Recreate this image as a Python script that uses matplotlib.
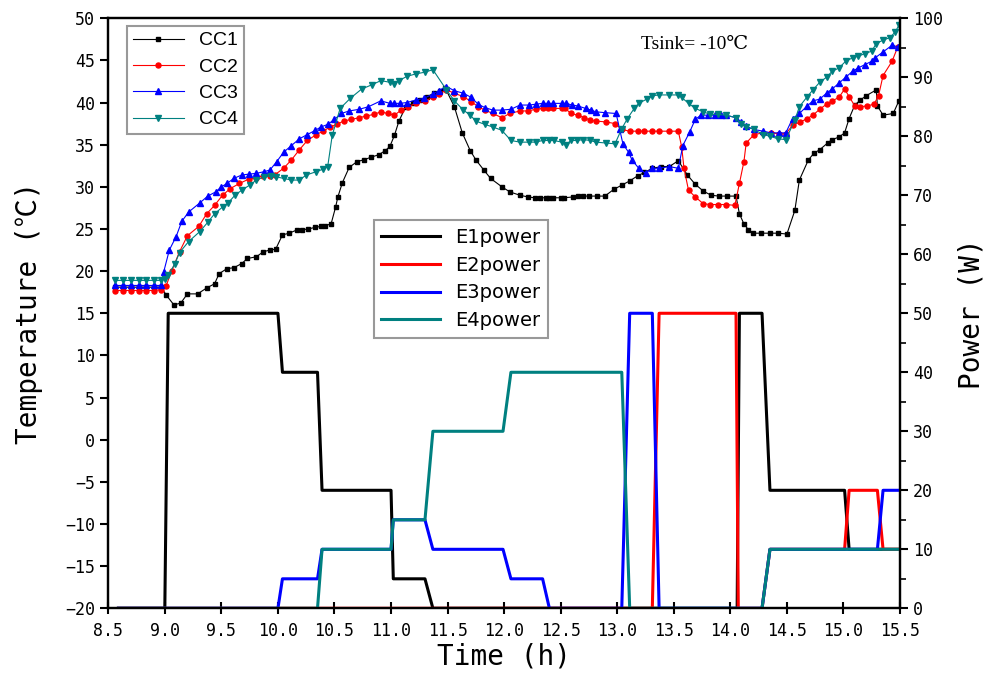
import matplotlib
matplotlib.use("Agg")
import matplotlib.pyplot as plt
from matplotlib.ticker import MultipleLocator

# Температуры CC1..CC4 (время, ℃)
cc1 = [(8.56, 18.1), (8.63, 18.1), (8.70, 18.1), (8.77, 18.1), (8.83, 18.1), (8.90, 18.1), (8.97, 18.1),
       (9.01, 17.2), (9.08, 16.0), (9.14, 16.2), (9.20, 17.3), (9.29, 17.3), (9.37, 18.0), (9.44, 18.5),
       (9.48, 19.7), (9.55, 20.3), (9.61, 20.4), (9.68, 20.9), (9.73, 21.5), (9.81, 21.7), (9.87, 22.3),
       (9.93, 22.5), (9.98, 22.6), (10.04, 24.3), (10.10, 24.5), (10.17, 24.9), (10.21, 24.9), (10.27, 25.0),
       (10.33, 25.2), (10.38, 25.3), (10.42, 25.4), (10.47, 25.6), (10.51, 27.6), (10.53, 28.8), (10.57, 30.5),
       (10.63, 32.3), (10.70, 33.0), (10.76, 33.2), (10.82, 33.5), (10.89, 33.8), (10.95, 34.3), (10.99, 34.8),
       (11.03, 36.1), (11.07, 37.8), (11.13, 39.5), (11.19, 39.9), (11.26, 40.3), (11.32, 40.7), (11.38, 41.1),
       (11.43, 41.4), (11.48, 41.7), (11.56, 39.5), (11.63, 36.4), (11.70, 34.3), (11.75, 33.2), (11.82, 32.0),
       (11.88, 31.0), (11.98, 30.0), (12.05, 29.4), (12.14, 29.0), (12.21, 28.8), (12.27, 28.7), (12.32, 28.7),
       (12.37, 28.7), (12.40, 28.7), (12.43, 28.7), (12.50, 28.7), (12.53, 28.7), (12.61, 28.8), (12.65, 28.9),
       (12.70, 28.9), (12.75, 28.9), (12.82, 28.9), (12.89, 28.9), (12.97, 29.7), (13.04, 30.2), (13.11, 30.7),
       (13.18, 31.3), (13.24, 31.7), (13.31, 32.2), (13.39, 32.4), (13.46, 32.4), (13.54, 33.1), (13.62, 31.4),
       (13.69, 30.3), (13.76, 29.5), (13.83, 29.0), (13.90, 28.9), (13.97, 28.9), (14.05, 28.9), (14.08, 26.8),
       (14.12, 25.6), (14.16, 24.9), (14.20, 24.5), (14.27, 24.5), (14.35, 24.5), (14.42, 24.5), (14.50, 24.4),
       (14.57, 27.2), (14.61, 30.8), (14.69, 33.2), (14.74, 34.0), (14.79, 34.4), (14.86, 35.2), (14.90, 35.6),
       (14.96, 35.9), (15.01, 36.4), (15.05, 38.1), (15.10, 39.7), (15.15, 40.3), (15.20, 40.8), (15.29, 41.5),
       (15.30, 39.6), (15.35, 38.5), (15.44, 38.7), (15.49, 40.2)]

cc2 = [(8.56, 17.7), (8.63, 17.7), (8.70, 17.7), (8.77, 17.7), (8.83, 17.7), (8.90, 17.7), (8.97, 17.8),
       (9.01, 18.2), (9.06, 20.0), (9.13, 22.3), (9.20, 24.2), (9.30, 25.3), (9.37, 26.8), (9.44, 27.8),
       (9.51, 29.0), (9.58, 29.8), (9.66, 30.4), (9.74, 30.9), (9.81, 31.1), (9.87, 31.3), (9.93, 31.3),
       (9.97, 31.4), (10.05, 32.2), (10.12, 33.2), (10.19, 34.4), (10.26, 35.5), (10.34, 36.2), (10.40, 36.6),
       (10.46, 37.1), (10.52, 37.4), (10.58, 37.8), (10.65, 38.0), (10.72, 38.2), (10.78, 38.4), (10.85, 38.6),
       (10.91, 38.9), (10.97, 38.7), (11.03, 38.5), (11.09, 39.1), (11.15, 39.5), (11.22, 39.9), (11.30, 40.2),
       (11.37, 40.6), (11.42, 41.0), (11.49, 41.5), (11.56, 41.1), (11.64, 40.7), (11.71, 40.1), (11.77, 39.5),
       (11.83, 39.1), (11.90, 38.7), (11.98, 38.2), (12.05, 38.7), (12.14, 39.0), (12.21, 39.0), (12.28, 39.2),
       (12.34, 39.3), (12.39, 39.3), (12.43, 39.3), (12.51, 39.3), (12.54, 39.3), (12.59, 38.7), (12.65, 38.5),
       (12.71, 38.2), (12.76, 37.9), (12.81, 37.8), (12.90, 37.7), (12.98, 37.5), (13.04, 36.8), (13.11, 36.6),
       (13.18, 36.6), (13.24, 36.6), (13.31, 36.6), (13.37, 36.6), (13.46, 36.6), (13.54, 36.6), (13.57, 34.7),
       (13.59, 32.2), (13.63, 29.6), (13.69, 28.8), (13.76, 28.0), (13.82, 27.9), (13.89, 27.9), (13.96, 27.9),
       (14.04, 27.8), (14.08, 30.4), (14.12, 33.0), (14.14, 35.2), (14.21, 36.2), (14.29, 36.4), (14.36, 36.4),
       (14.43, 36.3), (14.49, 36.3), (14.55, 37.3), (14.62, 37.7), (14.68, 38.1), (14.73, 38.5), (14.79, 39.2),
       (14.85, 39.8), (14.90, 40.2), (14.96, 40.6), (15.01, 41.6), (15.05, 40.7), (15.10, 39.6), (15.15, 39.5),
       (15.21, 39.6), (15.27, 39.8), (15.31, 40.8), (15.35, 43.2), (15.43, 44.9), (15.48, 46.6)]

cc3 = [(8.56, 18.3), (8.63, 18.3), (8.70, 18.3), (8.77, 18.3), (8.83, 18.3), (8.90, 18.3), (8.97, 18.3),
       (8.99, 19.9), (9.04, 22.5), (9.10, 24.1), (9.15, 25.9), (9.21, 27.0), (9.31, 28.1), (9.38, 28.9),
       (9.45, 29.4), (9.50, 30.0), (9.55, 30.4), (9.61, 31.0), (9.68, 31.4), (9.74, 31.5), (9.81, 31.6),
       (9.88, 31.8), (9.93, 32.0), (9.99, 33.0), (10.05, 34.1), (10.12, 34.9), (10.19, 35.7), (10.26, 36.2),
       (10.33, 36.7), (10.38, 37.1), (10.44, 37.4), (10.50, 38.0), (10.56, 38.7), (10.63, 39.0), (10.72, 39.2),
       (10.80, 39.5), (10.91, 40.2), (10.99, 39.9), (11.03, 39.9), (11.08, 39.9), (11.14, 40.0), (11.22, 40.3),
       (11.29, 40.5), (11.37, 41.0), (11.42, 41.4), (11.49, 41.9), (11.56, 41.4), (11.64, 41.1), (11.71, 40.6),
       (11.77, 39.8), (11.83, 39.4), (11.90, 39.1), (11.98, 39.1), (12.06, 39.2), (12.14, 39.7), (12.22, 39.7),
       (12.28, 39.8), (12.34, 39.9), (12.39, 39.9), (12.43, 39.9), (12.51, 39.9), (12.55, 39.9), (12.60, 39.7),
       (12.65, 39.6), (12.72, 39.3), (12.77, 39.1), (12.81, 38.9), (12.89, 38.8), (12.99, 38.7), (13.02, 36.9),
       (13.05, 35.1), (13.10, 34.1), (13.13, 33.2), (13.19, 32.2), (13.25, 31.6), (13.31, 32.2), (13.37, 32.2),
       (13.46, 32.4), (13.54, 32.2), (13.58, 34.9), (13.64, 36.5), (13.69, 38.0), (13.74, 38.5), (13.80, 38.5),
       (13.86, 38.5), (13.92, 38.5), (13.96, 38.5), (14.05, 38.2), (14.09, 37.7), (14.14, 37.2), (14.21, 36.8),
       (14.29, 36.6), (14.36, 36.4), (14.43, 36.4), (14.49, 36.4), (14.55, 38.1), (14.61, 38.7), (14.68, 39.6),
       (14.73, 40.2), (14.79, 40.4), (14.85, 41.1), (14.90, 41.6), (14.96, 42.3), (15.02, 43.0), (15.08, 43.7),
       (15.13, 44.1), (15.19, 44.5), (15.25, 44.9), (15.28, 45.3), (15.35, 46.0), (15.43, 46.8), (15.48, 46.6)]

cc4 = [(8.56, 18.9), (8.63, 18.9), (8.70, 18.9), (8.77, 18.9), (8.83, 18.9), (8.90, 18.9), (8.97, 18.9),
       (9.00, 19.1), (9.03, 19.5), (9.09, 20.9), (9.13, 22.2), (9.21, 23.5), (9.31, 24.7), (9.38, 25.8),
       (9.44, 26.8), (9.51, 27.6), (9.56, 28.1), (9.62, 29.0), (9.68, 29.6), (9.75, 30.2), (9.81, 30.8),
       (9.88, 31.2), (9.94, 31.3), (9.98, 31.2), (10.05, 31.0), (10.12, 30.8), (10.19, 30.8), (10.25, 31.4),
       (10.34, 31.8), (10.40, 32.1), (10.44, 32.4), (10.48, 36.1), (10.55, 39.3), (10.64, 40.5), (10.74, 41.6),
       (10.83, 42.1), (10.91, 42.6), (10.99, 42.4), (11.03, 42.2), (11.07, 42.6), (11.14, 43.1), (11.22, 43.4),
       (11.30, 43.6), (11.37, 43.9), (11.49, 41.5), (11.56, 40.2), (11.64, 39.1), (11.70, 38.5), (11.75, 37.8),
       (11.83, 37.4), (11.90, 37.1), (11.98, 36.7), (12.06, 35.5), (12.14, 35.3), (12.22, 35.3), (12.28, 35.3),
       (12.34, 35.5), (12.40, 35.5), (12.44, 35.5), (12.51, 35.3), (12.55, 35.0), (12.59, 35.5), (12.64, 35.5),
       (12.70, 35.6), (12.76, 35.5), (12.81, 35.3), (12.90, 35.2), (12.98, 35.1), (13.04, 36.9), (13.09, 38.1),
       (13.15, 39.3), (13.19, 39.9), (13.26, 40.4), (13.31, 40.8), (13.37, 40.9), (13.46, 40.9), (13.54, 40.9),
       (13.57, 40.6), (13.63, 39.9), (13.69, 39.3), (13.76, 38.9), (13.82, 38.6), (13.89, 38.6), (13.96, 38.5),
       (14.05, 38.2), (14.09, 37.5), (14.14, 37.1), (14.21, 36.8), (14.29, 36.2), (14.35, 36.0), (14.42, 35.7),
       (14.49, 35.6), (14.57, 37.9), (14.61, 39.5), (14.68, 40.7), (14.73, 41.5), (14.79, 42.4), (14.85, 43.0),
       (14.90, 43.7), (14.96, 44.1), (15.02, 44.9), (15.08, 45.3), (15.13, 45.5), (15.19, 45.8), (15.25, 46.1),
       (15.29, 47.0), (15.35, 47.4), (15.41, 47.7), (15.46, 48.4), (15.49, 49.2)]

# Мощности нагревателей E1..E4 (время, Вт)
e1_power = [(8.59, 0), (9.00, 0), (9.03, 50), (10.00, 50), (10.04, 40), (10.35, 40), (10.39, 20), (11.00, 20),
            (11.02, 5), (11.30, 5), (11.37, 0), (14.06, 0), (14.08, 50), (14.28, 50), (14.35, 20), (15.01, 20),
            (15.05, 10), (15.50, 10)]
e2_power = [(8.59, 0), (13.31, 0), (13.37, 50), (14.05, 50), (14.07, 0), (14.28, 0), (14.35, 10), (15.01, 10),
            (15.05, 20), (15.30, 20), (15.35, 10), (15.50, 10)]
e3_power = [(8.59, 0), (10.00, 0), (10.04, 5), (10.35, 5), (10.39, 10), (11.00, 10), (11.02, 15), (11.30, 15),
            (11.37, 10), (11.99, 10), (12.06, 5), (12.34, 5), (12.40, 0), (13.04, 0), (13.11, 50), (13.31, 50),
            (13.37, 0), (14.28, 0), (14.35, 10), (15.30, 10), (15.35, 20), (15.50, 20)]
e4_power = [(8.59, 0), (10.35, 0), (10.39, 10), (11.00, 10), (11.02, 15), (11.30, 15), (11.37, 30), (11.99, 30),
            (12.06, 40), (13.04, 40), (13.11, 0), (14.28, 0), (14.35, 10), (15.50, 10)]

teal = "#008080"
mono = ["DejaVu Sans Mono", "Noto Sans CJK SC"]

fig = plt.figure(figsize=(9.86, 6.93), dpi=100)
ax1 = fig.add_axes([0.1098, 0.1222, 0.8030, 0.8515])
ax2 = ax1.twinx()

# Температуры
styles = [("CC1", cc1, "black", "s", 3.2),
          ("CC2", cc2, "red", "o", 3.6),
          ("CC3", cc3, "blue", "^", 4.8),
          ("CC4", cc4, teal, "v", 4.8)]
for name, data, col, mk, ms in styles:
    t, T = zip(*data)
    ax1.plot(t, T, color=col, lw=0.8, marker=mk, ms=ms, label=name)

# Мощности
for name, data, col in [("E1power", e1_power, "black"), ("E2power", e2_power, "red"),
                        ("E3power", e3_power, "blue"), ("E4power", e4_power, teal)]:
    t, P = zip(*data)
    ax2.plot(t, P, color=col, lw=2.2, label=name)

ax1.set_xlim(8.5, 15.5)
ax1.set_ylim(-20, 50)
ax2.set_ylim(0, 100)

ax1.xaxis.set_major_locator(MultipleLocator(0.5))
ax1.yaxis.set_major_locator(MultipleLocator(5))
ax2.yaxis.set_major_locator(MultipleLocator(10))
ax2.yaxis.set_minor_locator(MultipleLocator(5))
ax1.xaxis.set_major_formatter(plt.FormatStrFormatter("%.1f"))

for ax in (ax1, ax2):
    for sp in ax.spines.values():
        sp.set_linewidth(1.6)
ax1.tick_params(axis="x", direction="inout", length=9, width=1.5, labelsize=12, pad=5)
ax1.tick_params(axis="y", direction="out", length=6, width=1.5, labelsize=12)
ax2.tick_params(axis="y", which="major", direction="out", length=6, width=1.5, labelsize=12)
ax2.tick_params(axis="y", which="minor", direction="out", length=4, width=1.2)
for lab in ax1.get_xticklabels() + ax1.get_yticklabels() + ax2.get_yticklabels():
    lab.set_family(mono)

ax1.set_xlabel("Time (h)", family=mono, fontsize=20, labelpad=2)
ax1.set_ylabel("Temperature (℃)", family=mono, fontsize=20, labelpad=16)
ax2.set_ylabel("Power (W)", family=mono, fontsize=20, labelpad=10)

ax1.text(0.74, 0.955, "Tsink= -10℃", transform=ax1.transAxes, ha="center", va="center",
         fontsize=14, family=["Liberation Serif", "DejaVu Serif"])

leg1 = ax1.legend(loc="upper left", bbox_to_anchor=(0.024, 0.987), borderaxespad=0,
                  fancybox=False, edgecolor="#999999", framealpha=1, handlelength=2.6,
                  labelspacing=0.45, borderpad=0.3, handletextpad=0.8,
                  prop={"family": ["Liberation Sans Narrow", "Liberation Sans"], "size": 14})
leg1.get_frame().set_linewidth(1.5)

leg2 = ax2.legend(loc="upper left", bbox_to_anchor=(0.335, 0.658), borderaxespad=0,
                  fancybox=False, edgecolor="#999999", framealpha=1, handlelength=3.0,
                  labelspacing=0.45, borderpad=0.4, handletextpad=0.8,
                  prop={"family": "DejaVu Sans", "size": 14})
leg2.get_frame().set_linewidth(1.5)

fig.savefig("out.png", dpi=100)
